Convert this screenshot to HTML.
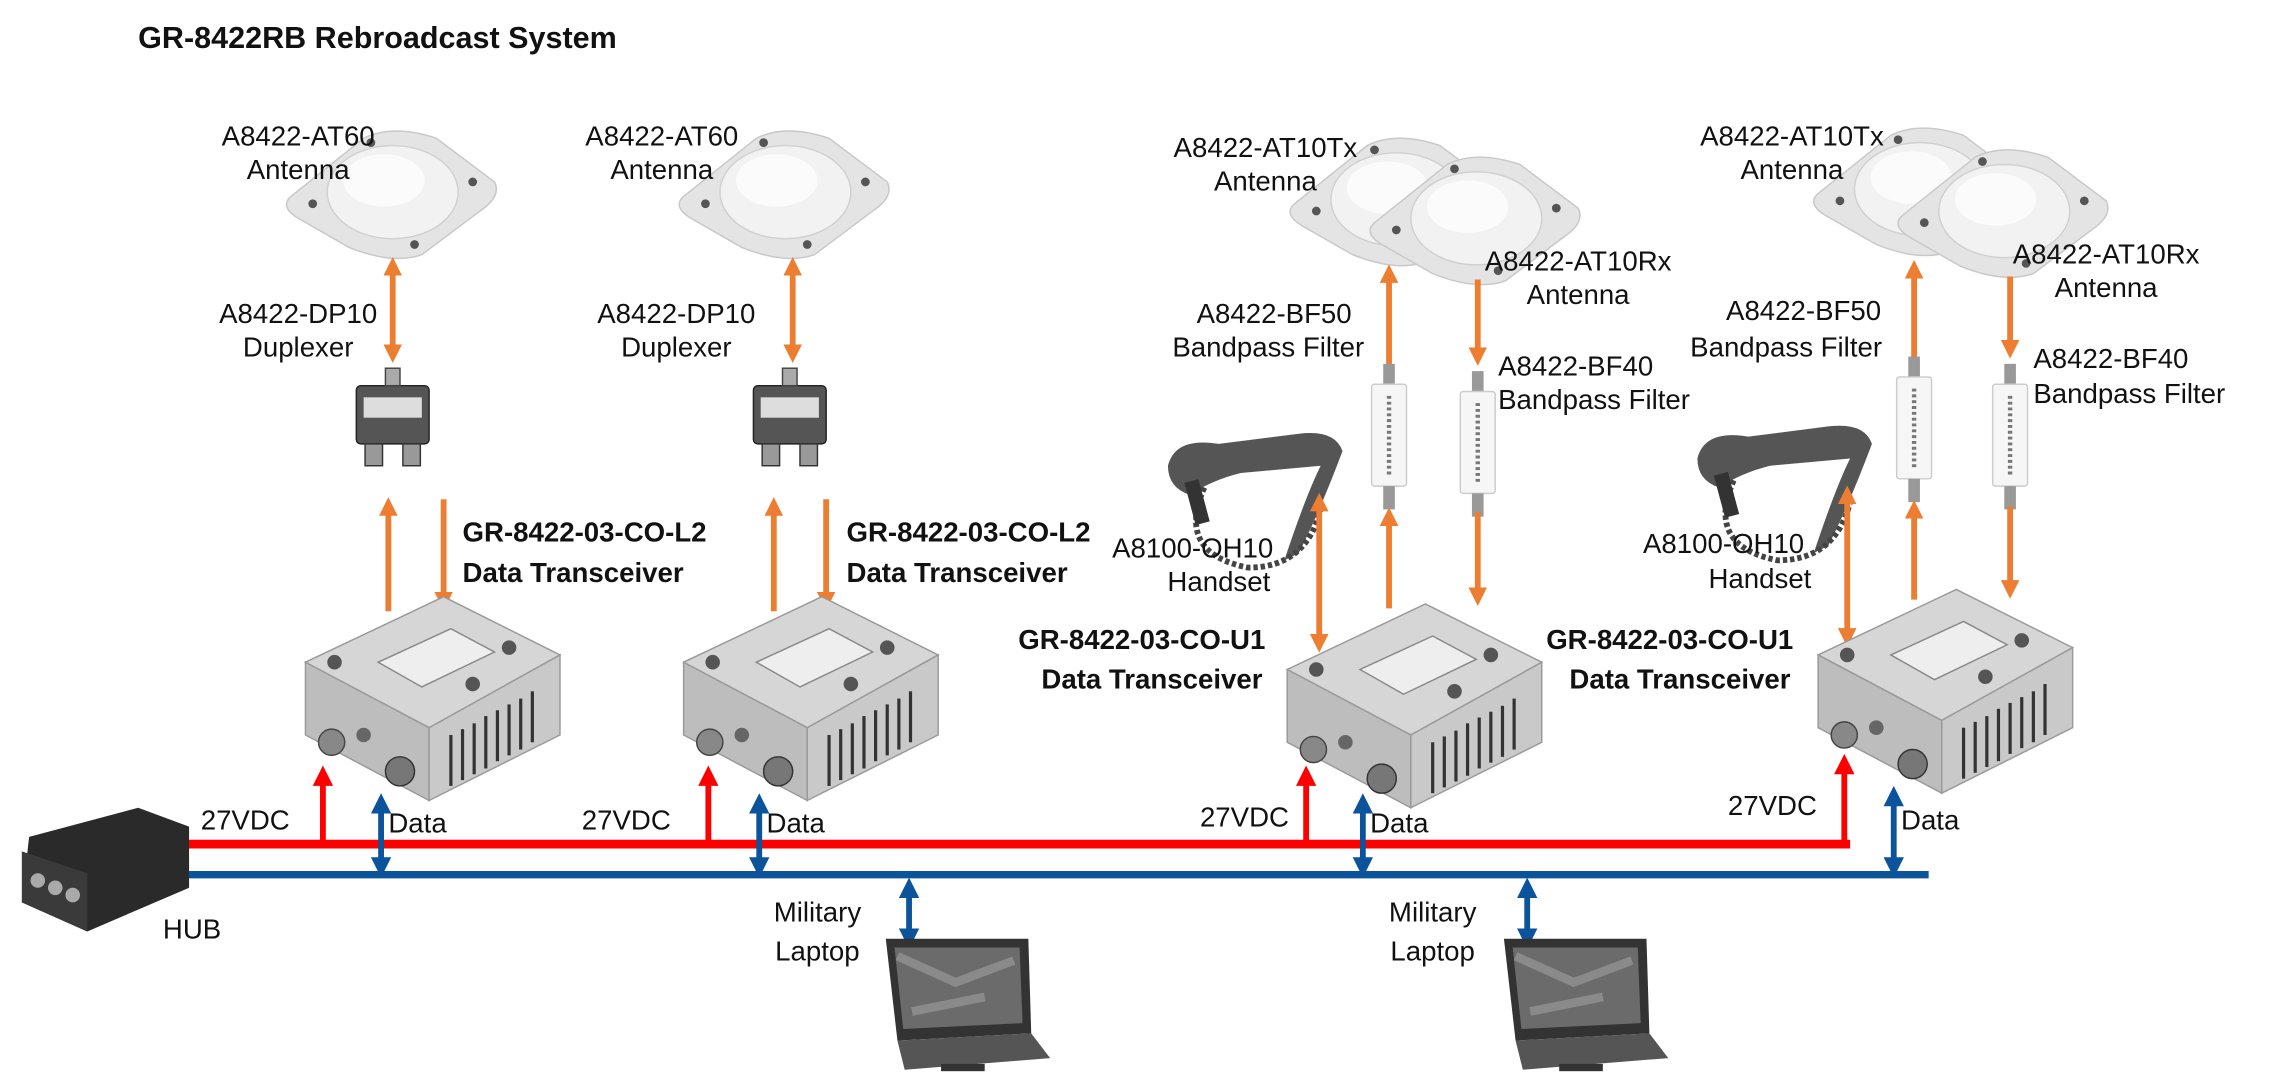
<!DOCTYPE html>
<html><head><meta charset="utf-8"><style>
html,body{margin:0;padding:0;background:#fff;}
svg{display:block;}
text{font-family:"Liberation Sans",sans-serif;font-size:19px;fill:#111;}
.b{font-weight:bold;}
</style></head><body>
<svg width="2269" height="1077" viewBox="0 0 1560 740" preserveAspectRatio="none" xmlns="http://www.w3.org/2000/svg">
<defs>
<marker id="ao" viewBox="0 0 10 10" refX="5" refY="5" markerWidth="3.2" markerHeight="3.2" orient="auto-start-reverse"><path d="M0,0L10,5L0,10z" fill="#ED7D31"/></marker>
<marker id="ar" viewBox="0 0 10 10" refX="5" refY="5" markerWidth="3.5" markerHeight="3.5" orient="auto-start-reverse"><path d="M0,0L10,5L0,10z" fill="#FF0000"/></marker>
<marker id="ab" viewBox="0 0 10 10" refX="5" refY="5" markerWidth="3.5" markerHeight="3.5" orient="auto-start-reverse"><path d="M0,0L10,5L0,10z" fill="#0B539B"/></marker>
<g id="ant">
<path d="M-70,5 L-20,-35 Q0,-45 30,-35 L70,-5 Q75,5 60,15 L20,45 Q0,52 -30,40 L-65,20 Q-78,12 -70,5z" fill="#e4e4e4" stroke="#c8c8c8"/>
<ellipse cx="0" cy="2" rx="45" ry="32" fill="#f2f2f2" stroke="#d0d0d0"/>
<ellipse cx="-6" cy="-6" rx="28" ry="18" fill="#fbfbfb"/>
<circle cx="-55" cy="10" r="3" fill="#555"/><circle cx="55" cy="-5" r="3" fill="#555"/><circle cx="-15" cy="-32" r="3" fill="#555"/><circle cx="15" cy="38" r="3" fill="#555"/>
</g>
<g id="trx">
<path d="M10,45 L105,0 L185,40 L95,90z" fill="#d6d6d6" stroke="#999"/>
<path d="M10,45 L95,90 L95,140 L10,95z" fill="#bdbdbd" stroke="#999"/>
<path d="M95,90 L185,40 L185,95 L95,140z" fill="#c9c9c9" stroke="#999"/>
<g stroke="#333" stroke-width="2.2"><line x1="110" y1="95" x2="110" y2="130"/><line x1="118" y1="91" x2="118" y2="126"/><line x1="126" y1="87" x2="126" y2="122"/><line x1="134" y1="82" x2="134" y2="118"/><line x1="142" y1="78" x2="142" y2="113"/><line x1="150" y1="74" x2="150" y2="109"/><line x1="158" y1="70" x2="158" y2="105"/><line x1="166" y1="65" x2="166" y2="100"/></g>
<path d="M60,45 L110,22 L140,38 L90,62z" fill="#eee" stroke="#888"/>
<circle cx="30" cy="45" r="5" fill="#555"/><circle cx="150" cy="35" r="5" fill="#555"/><circle cx="125" cy="60" r="5" fill="#555"/>
<circle cx="28" cy="100" r="9" fill="#888" stroke="#444"/><circle cx="75" cy="120" r="10" fill="#777" stroke="#333"/><circle cx="50" cy="95" r="5" fill="#666"/>
</g>
<g id="dup">
<rect x="0" y="0" width="50" height="40" rx="3" fill="#555" stroke="#222"/>
<rect x="5" y="8" width="40" height="14" fill="#ddd"/>
<rect x="20" y="-12" width="10" height="12" fill="#aaa" stroke="#444"/>
<rect x="6" y="40" width="12" height="15" fill="#999" stroke="#333"/><rect x="32" y="40" width="12" height="15" fill="#999" stroke="#333"/>
</g>
<g id="flt">
<rect x="-4" y="0" width="8" height="14" fill="#999"/>
<rect x="-12" y="14" width="24" height="70" rx="2" fill="#f6f6f6" stroke="#ccc"/>
<line x1="0" y1="22" x2="0" y2="76" stroke="#777" stroke-width="3" stroke-dasharray="2 2"/>
<rect x="-4" y="84" width="8" height="16" fill="#999"/>
</g>
<g id="hs">
<path d="M5,30 Q10,10 40,15 L95,8 Q120,5 125,20 Q110,60 95,90 L85,95 Q100,50 110,30 L55,35 Q35,40 20,50 Q5,45 5,30z" fill="#555"/>
<path d="M30,45 Q10,90 60,100 Q100,100 110,60" fill="none" stroke="#444" stroke-width="4" stroke-dasharray="3 2"/>
<rect x="20" y="40" width="10" height="30" fill="#333" transform="rotate(-15 25 55)"/>
</g>
<g id="lap">
<path d="M12,0 L110,0 L112,65 L20,70z" fill="#333"/>
<path d="M18,6 L104,6 L106,58 L24,62z" fill="#6b6b6b"/>
<path d="M20,12 L60,30 L100,15 M30,50 L80,40" stroke="#8a8a8a" stroke-width="6" fill="none"/>
<path d="M20,70 L112,65 L125,82 L25,90z" fill="#555"/>
<rect x="50" y="86" width="30" height="5" fill="#333"/>
</g>
</defs>

<text x="95" y="33" class="b" style="font-size:21px">GR-8422RB Rebroadcast System</text>

<!-- Group 1 -->
<use href="#ant" x="270" y="130"/>
<text x="205" y="100" text-anchor="middle">A8422-AT60</text><text x="205" y="123" text-anchor="middle">Antenna</text>
<line x1="270" y1="183" x2="270" y2="243" stroke="#ED7D31" stroke-width="4" marker-start="url(#ao)" marker-end="url(#ao)"/>
<text x="205" y="222" text-anchor="middle">A8422-DP10</text><text x="205" y="245" text-anchor="middle">Duplexer</text>
<use href="#dup" x="245" y="265"/>
<line x1="267" y1="420" x2="267" y2="348" stroke="#ED7D31" stroke-width="4" marker-end="url(#ao)"/>
<line x1="305" y1="343" x2="305" y2="413" stroke="#ED7D31" stroke-width="4" marker-end="url(#ao)"/>
<text x="318" y="372" class="b">GR-8422-03-CO-L2</text><text x="318" y="400" class="b">Data Transceiver</text>
<use href="#trx" x="200" y="410"/>

<!-- Group 2 -->
<use href="#ant" x="540" y="130"/>
<text x="455" y="100" text-anchor="middle">A8422-AT60</text><text x="455" y="123" text-anchor="middle">Antenna</text>
<line x1="545" y1="183" x2="545" y2="243" stroke="#ED7D31" stroke-width="4" marker-start="url(#ao)" marker-end="url(#ao)"/>
<text x="465" y="222" text-anchor="middle">A8422-DP10</text><text x="465" y="245" text-anchor="middle">Duplexer</text>
<use href="#dup" x="518" y="265"/>
<line x1="532" y1="420" x2="532" y2="348" stroke="#ED7D31" stroke-width="4" marker-end="url(#ao)"/>
<line x1="568" y1="343" x2="568" y2="413" stroke="#ED7D31" stroke-width="4" marker-end="url(#ao)"/>
<text x="582" y="372" class="b">GR-8422-03-CO-L2</text><text x="582" y="400" class="b">Data Transceiver</text>
<use href="#trx" x="460" y="410"/>

<!-- Group 3 -->
<use href="#ant" x="960" y="135"/><use href="#ant" x="1015" y="148"/>
<text x="870" y="108" text-anchor="middle">A8422-AT10Tx</text><text x="870" y="131" text-anchor="middle">Antenna</text>
<text x="1085" y="186" text-anchor="middle">A8422-AT10Rx</text><text x="1085" y="209" text-anchor="middle">Antenna</text>
<line x1="955" y1="265" x2="955" y2="188" stroke="#ED7D31" stroke-width="4" marker-end="url(#ao)"/>
<line x1="1016" y1="192" x2="1016" y2="245" stroke="#ED7D31" stroke-width="4" marker-end="url(#ao)"/>
<text x="876" y="222" text-anchor="middle">A8422-BF50</text><text x="872" y="245" text-anchor="middle">Bandpass Filter</text>
<text x="1030" y="258">A8422-BF40</text><text x="1030" y="281">Bandpass Filter</text>
<use href="#flt" x="955" y="250"/><use href="#flt" x="1016" y="255"/>
<line x1="955" y1="418" x2="955" y2="355" stroke="#ED7D31" stroke-width="4" marker-end="url(#ao)"/>
<line x1="1016" y1="352" x2="1016" y2="410" stroke="#ED7D31" stroke-width="4" marker-end="url(#ao)"/>
<use href="#hs" x="798" y="290"/>
<line x1="907" y1="345" x2="907" y2="442" stroke="#ED7D31" stroke-width="4" marker-start="url(#ao)" marker-end="url(#ao)"/>
<text x="820" y="383" text-anchor="middle">A8100-OH10</text><text x="838" y="406" text-anchor="middle">Handset</text>
<text x="785" y="446" text-anchor="middle" class="b">GR-8422-03-CO-U1</text><text x="792" y="473" text-anchor="middle" class="b">Data Transceiver</text>
<use href="#trx" x="875" y="415"/>

<!-- Group 4 -->
<use href="#ant" x="1320" y="128"/><use href="#ant" x="1378" y="143"/>
<text x="1232" y="100" text-anchor="middle">A8422-AT10Tx</text><text x="1232" y="123" text-anchor="middle">Antenna</text>
<text x="1448" y="181" text-anchor="middle">A8422-AT10Rx</text><text x="1448" y="204" text-anchor="middle">Antenna</text>
<line x1="1316" y1="262" x2="1316" y2="185" stroke="#ED7D31" stroke-width="4" marker-end="url(#ao)"/>
<line x1="1382" y1="190" x2="1382" y2="240" stroke="#ED7D31" stroke-width="4" marker-end="url(#ao)"/>
<text x="1240" y="220" text-anchor="middle">A8422-BF50</text><text x="1228" y="245" text-anchor="middle">Bandpass Filter</text>
<text x="1398" y="253">A8422-BF40</text><text x="1398" y="277">Bandpass Filter</text>
<use href="#flt" x="1316" y="245"/><use href="#flt" x="1382" y="250"/>
<line x1="1316" y1="412" x2="1316" y2="350" stroke="#ED7D31" stroke-width="4" marker-end="url(#ao)"/>
<line x1="1382" y1="348" x2="1382" y2="405" stroke="#ED7D31" stroke-width="4" marker-end="url(#ao)"/>
<use href="#hs" x="1162" y="285"/>
<line x1="1270" y1="340" x2="1270" y2="438" stroke="#ED7D31" stroke-width="4" marker-start="url(#ao)" marker-end="url(#ao)"/>
<text x="1185" y="380" text-anchor="middle">A8100-OH10</text><text x="1210" y="404" text-anchor="middle">Handset</text>
<text x="1148" y="446" text-anchor="middle" class="b">GR-8422-03-CO-U1</text><text x="1155" y="473" text-anchor="middle" class="b">Data Transceiver</text>
<use href="#trx" x="1240" y="405"/>

<!-- Bus lines -->
<line x1="125" y1="580" x2="1272" y2="580" stroke="#FF0000" stroke-width="6"/>
<line x1="120" y1="601" x2="1326" y2="601" stroke="#0B539B" stroke-width="5"/>
<g stroke="#FF0000" stroke-width="4">
<line x1="222" y1="580" x2="222" y2="533" marker-end="url(#ar)"/>
<line x1="487" y1="580" x2="487" y2="533" marker-end="url(#ar)"/>
<line x1="898" y1="580" x2="898" y2="533" marker-end="url(#ar)"/>
<line x1="1268" y1="580" x2="1268" y2="525" marker-end="url(#ar)"/>
</g>
<g stroke="#0B539B" stroke-width="4">
<line x1="262" y1="552" x2="262" y2="596" marker-start="url(#ab)" marker-end="url(#ab)"/>
<line x1="522" y1="552" x2="522" y2="596" marker-start="url(#ab)" marker-end="url(#ab)"/>
<line x1="937" y1="552" x2="937" y2="596" marker-start="url(#ab)" marker-end="url(#ab)"/>
<line x1="1302" y1="547" x2="1302" y2="596" marker-start="url(#ab)" marker-end="url(#ab)"/>
<line x1="625" y1="610" x2="625" y2="645" marker-start="url(#ab)" marker-end="url(#ab)"/>
<line x1="1050" y1="610" x2="1050" y2="645" marker-start="url(#ab)" marker-end="url(#ab)"/>
</g>
<text x="138" y="570">27VDC</text><text x="400" y="570">27VDC</text><text x="825" y="568">27VDC</text><text x="1188" y="560">27VDC</text>
<text x="267" y="572">Data</text><text x="527" y="572">Data</text><text x="942" y="572">Data</text><text x="1307" y="570">Data</text>
<text x="562" y="633" text-anchor="middle">Military</text><text x="562" y="660" text-anchor="middle">Laptop</text>
<text x="985" y="633" text-anchor="middle">Military</text><text x="985" y="660" text-anchor="middle">Laptop</text>
<use href="#lap" x="597" y="645"/><use href="#lap" x="1022" y="645"/>

<!-- HUB -->
<path d="M20,575 L95,555 L130,568 L130,610 L60,640 L15,620z" fill="#2a2a2a"/>
<path d="M15,585 L60,600 L60,640 L15,620z" fill="#3a3a3a"/>
<circle cx="26" cy="605" r="5" fill="#aaa"/><circle cx="38" cy="610" r="5" fill="#aaa"/><circle cx="50" cy="615" r="5" fill="#aaa"/>
<text x="112" y="645">HUB</text>
</svg>
</body></html>
